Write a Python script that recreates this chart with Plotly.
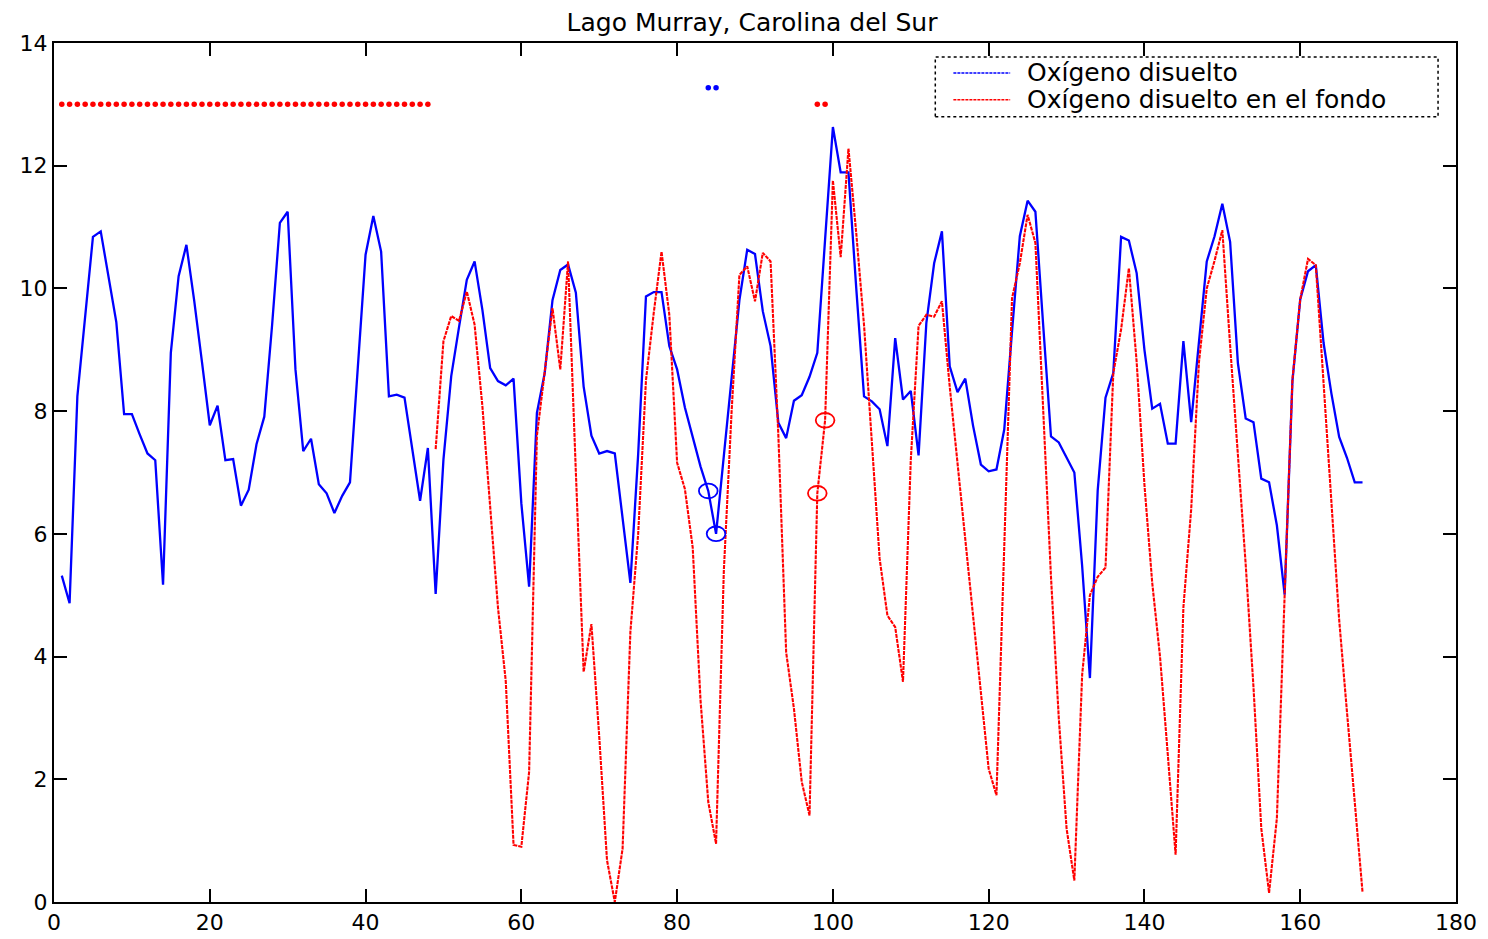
import plotly.graph_objects as go

# monthly samples, index 1..168
surface_x = list(range(1, 169))
surface_do = [
    5.32, 4.87, 8.24, 9.6, 10.84, 10.93, 10.2, 9.45, 7.95, 7.95,
    7.62, 7.31, 7.2, 5.17, 8.95, 10.2, 10.71, 9.8, 8.8, 7.77,
    8.09, 7.2, 7.22, 6.46, 6.72, 7.46, 7.91, 9.4, 11.07, 11.25,
    8.68, 7.35, 7.55, 6.81, 6.66, 6.34, 6.62, 6.84, 8.7, 10.55,
    11.18, 10.6, 8.24, 8.27, 8.22, 7.4, 6.54, 7.4, 5.02, 7.21,
    8.57, 9.37, 10.14, 10.44, 9.65, 8.7, 8.49, 8.42, 8.53, 6.5,
    5.14, 7.97, 8.62, 9.81, 10.3, 10.39, 9.93, 8.4, 7.6, 7.31,
    7.35, 7.31, 6.3, 5.2, 7.3, 9.87, 9.94, 9.94, 9.06, 8.68,
    8.06, 7.6, 7.1, 6.7, 6.0, 7.27, 8.54, 9.81, 10.63, 10.56,
    9.63, 9.06, 7.81, 7.56, 8.17, 8.26, 8.56, 8.95, 10.8, 12.63,
    11.89, 11.89, 10.0, 8.24, 8.16, 8.03, 7.43, 9.19, 8.19, 8.33,
    7.28, 9.44, 10.41, 10.93, 8.73, 8.31, 8.53, 7.76, 7.13, 7.02,
    7.05, 7.7, 9.3, 10.85, 11.43, 11.25, 9.4, 7.59, 7.49, 7.25,
    7.0, 5.48, 3.65, 6.71, 8.22, 8.62, 10.84, 10.78, 10.25, 9.0,
    8.04, 8.12, 7.47, 7.47, 9.14, 7.82, 9.1, 10.44, 10.85, 11.38,
    10.76, 8.78, 7.88, 7.82, 6.9, 6.84, 6.14, 5.01, 8.49, 9.82,
    10.28, 10.38, 9.11, 8.29, 7.58, 7.24, 6.84, 6.84,
]

bottom_x = list(range(49, 169))
bottom_do = [
    7.38, 9.14, 9.55, 9.47, 9.95, 9.41, 8.08, 6.4, 4.8, 3.6,
    0.93, 0.9, 2.12, 7.6, 8.6, 9.68, 8.68, 10.44, 7.0, 3.75,
    4.53, 2.7, 0.68, 0.0, 0.87, 4.4, 6.0, 8.5, 9.6, 10.6,
    9.57, 7.16, 6.73, 5.78, 3.3, 1.63, 0.95, 5.4, 8.0, 10.22,
    10.36, 9.79, 10.58, 10.44, 7.6, 4.07, 3.15, 1.96, 1.41, 6.66,
    7.85, 11.76, 10.51, 12.28, 10.9, 9.4, 7.5, 5.6, 4.67, 4.48,
    3.59, 7.2, 9.39, 9.57, 9.54, 9.79, 8.4, 7.15, 5.9, 4.7,
    3.4, 2.17, 1.74, 5.8, 9.84, 10.41, 11.2, 10.74, 8.0, 5.3,
    3.0, 1.2, 0.35, 3.7, 5.0, 5.3, 5.45, 8.62, 9.33, 10.33,
    8.8, 6.8, 5.2, 4.0, 2.4, 0.77, 4.8, 6.4, 8.8, 10.0,
    10.45, 10.95, 9.07, 7.3, 5.5, 3.5, 1.2, 0.15, 1.36, 5.0,
    8.51, 9.82, 10.48, 10.38, 8.4, 6.4, 4.6, 3.1, 1.6, 0.16,
]

# months with missing readings (flag rows at the top)
missing_surface_x = [84, 85]
missing_bottom_x = list(range(1, 49)) + [98, 99]
flag_surface = 13.27
flag_bottom = 13.0

# filled-in points that are circled
filled_surface = [(84, 6.7), (85, 6.0)]
filled_bottom = [(98, 6.66), (99, 7.85)]

series_names = ["Oxígeno disuelto", "Oxígeno disuelto en el fondo"]

blue = "#0000ff"
red = "#ff0000"
font_name = "DejaVu Sans"

fig = go.Figure()
fig.add_trace(go.Scatter(x=surface_x, y=surface_do, mode="lines",
                         line=dict(color=blue, width=2.3),
                         name=series_names[0], showlegend=False))
fig.add_trace(go.Scatter(x=bottom_x, y=bottom_do, mode="lines",
                         line=dict(color=red, width=2.1, dash="4px,1px"),
                         name=series_names[1], showlegend=False))
fig.add_trace(go.Scatter(x=missing_surface_x, y=[flag_surface] * len(missing_surface_x),
                         mode="markers", marker=dict(color=blue, size=5.5),
                         showlegend=False))
fig.add_trace(go.Scatter(x=missing_bottom_x, y=[flag_bottom] * len(missing_bottom_x),
                         mode="markers", marker=dict(color=red, size=5.5),
                         showlegend=False))

for pts, col in [(filled_surface, blue), (filled_bottom, red)]:
    for px, py in pts:
        fig.add_shape(type="circle", xref="x", yref="y",
                      x0=px - 1.2, x1=px + 1.2, y0=py - 0.12, y1=py + 0.12,
                      line=dict(color=col, width=1.8))

# legend drawn by hand, matlab style: dotted frame, short samples, text
fig.add_shape(type="rect", xref="paper", yref="paper",
              x0=0.6286, x1=0.9872, y0=0.914, y1=0.9837,
              line=dict(color="black", width=1.5, dash="dot"),
              fillcolor="white", layer="above")
legend_rows = [0.9652, 0.9338]
for name, col, ly in zip(series_names, [blue, red], legend_rows):
    fig.add_shape(type="line", xref="paper", yref="paper",
                  x0=0.6415, x1=0.682, y0=ly, y1=ly,
                  line=dict(color=col, width=1.5, dash="3px,1px"), layer="above")
    fig.add_annotation(xref="paper", yref="paper", x=0.6928, y=ly,
                       xanchor="left", yanchor="middle", showarrow=False,
                       text=name,
                       font=dict(family=font_name, size=25, color="black"))

axis_style = dict(showgrid=False, zeroline=False, showline=True, linecolor="black",
                  linewidth=2, mirror="ticks", ticks="inside", ticklen=13,
                  tickwidth=2, tickcolor="black",
                  tickfont=dict(family=font_name, size=22, color="black"))

fig.update_layout(
    width=1488, height=939,
    paper_bgcolor="white", plot_bgcolor="white",
    margin=dict(l=45, r=40, t=35, b=43),
    title=dict(text="Lago Murray, Carolina del Sur", x=0.5, xanchor="center",
               yref="paper", y=1.0, yanchor="bottom", pad=dict(b=12),
               font=dict(family=font_name, size=25, color="black")),
    xaxis=dict(range=[0, 180], dtick=20, tick0=0, **axis_style),
    yaxis=dict(range=[0, 14], dtick=2, tick0=0, **axis_style),
)

fig.write_html("out.html")
